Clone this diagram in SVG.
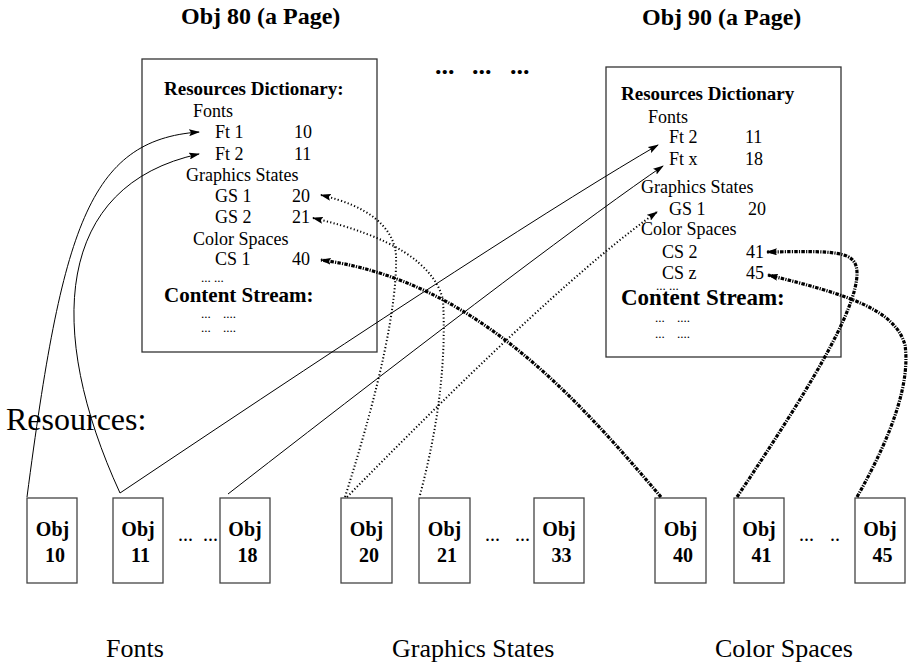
<svg xmlns="http://www.w3.org/2000/svg" width="914" height="663" viewBox="0 0 914 663">
<style>
text{font-family:"Liberation Serif","Times New Roman",serif;fill:#000}
.t{font-size:18px}
.d{font-size:13px}
.b{font-weight:bold}
.title{font-size:24px;font-weight:bold}
.hd{font-size:19px;font-weight:bold}
.obj{font-size:20px;font-weight:bold;text-anchor:middle}
.lbl{font-size:26px}
.page{fill:#fff;stroke:#333;stroke-width:1.3}
.res{fill:#fff;stroke:#444;stroke-width:1.3}
.font{fill:none;stroke:#000;stroke-width:1}
.gs{fill:none;stroke:#000;stroke-width:2;stroke-dasharray:1.2 2.3}
.cs{fill:none;stroke:#000;stroke-width:3.2;stroke-dasharray:3.5 1.2 1.2 1.2}
</style>
<defs>
<marker id="ah" markerUnits="userSpaceOnUse" markerWidth="11" markerHeight="7" refX="10" refY="3.5" orient="auto">
<path d="M0,0 L11,3.5 L0,7 L2,3.5 z" fill="#000"/>
</marker>
</defs>
<rect width="914" height="663" fill="#fff"/>
<text class="title" x="181" y="24">Obj 80 (a Page)</text>
<text class="title" x="642" y="25">Obj 90 (a Page)</text>
<text class="title" y="74" style="font-size:26px"><tspan x="435">...</tspan><tspan x="472">...</tspan><tspan x="510">...</tspan></text>
<g id="page80">
<rect class="page" x="142" y="59" width="235" height="293"/>
<text class="hd" x="164" y="95">Resources Dictionary:</text>
<text class="t" x="193" y="117">Fonts</text>
<text class="t" x="215" y="138">Ft 1</text><text class="t" x="294" y="138">10</text>
<text class="t" x="215" y="160">Ft 2</text><text class="t" x="294" y="160">11</text>
<text class="t" x="186" y="181">Graphics States</text>
<text class="t" x="215" y="202">GS 1</text><text class="t" x="292" y="202">20</text>
<text class="t" x="215" y="223">GS 2</text><text class="t" x="292" y="223">21</text>
<text class="t" x="193" y="245">Color Spaces</text>
<text class="t" x="215" y="265">CS 1</text><text class="t" x="292" y="265">40</text>
<text class="d" x="201" y="282">... ...</text>
<text class="b" x="164" y="302" style="font-size:21px">Content Stream:</text>
<text class="d" y="318"><tspan x="201">...</tspan><tspan x="223">....</tspan></text>
<text class="d" y="332"><tspan x="201">...</tspan><tspan x="223">....</tspan></text>
</g>
<g id="page90">
<rect class="page" x="606" y="67" width="235" height="290"/>
<text class="hd" x="621" y="100">Resources Dictionary</text>
<text class="t" x="648" y="123">Fonts</text>
<text class="t" x="669" y="143">Ft 2</text><text class="t" x="745" y="143">11</text>
<text class="t" x="669" y="165">Ft x</text><text class="t" x="745" y="165">18</text>
<text class="t" x="641" y="193">Graphics States</text>
<text class="t" x="669" y="215">GS 1</text><text class="t" x="748" y="215">20</text>
<text class="t" x="641" y="235">Color Spaces</text>
<text class="t" x="662" y="258">CS 2</text><text class="t" x="746" y="258">41</text>
<text class="t" x="662" y="279">CS z</text><text class="t" x="746" y="279">45</text>
<text class="d" x="656" y="290">... ...</text>
<text class="b" x="621" y="305" style="font-size:23px">Content Stream:</text>
<text class="d" y="322"><tspan x="655">...</tspan><tspan x="677">....</tspan></text>
<text class="d" y="338"><tspan x="655">...</tspan><tspan x="677">....</tspan></text>
</g>
<text x="6" y="430" style="font-size:32px">Resources:</text>
<g id="obj10"><rect class="res" x="27" y="498" width="50" height="85"/><text class="obj" x="52.5" y="536">Obj</text><text class="obj" x="55" y="562">10</text></g>
<g id="obj11"><rect class="res" x="113" y="498" width="50" height="85"/><text class="obj" x="138" y="536">Obj</text><text class="obj" x="140.5" y="562">11</text></g>
<text class="t" y="541" style="font-size:20px"><tspan x="178">...</tspan><tspan x="203">...</tspan></text>
<g id="obj18"><rect class="res" x="220" y="498" width="50" height="85"/><text class="obj" x="245" y="536">Obj</text><text class="obj" x="247.5" y="562">18</text></g>
<g id="obj20"><rect class="res" x="341" y="498" width="51" height="85"/><text class="obj" x="366.5" y="536">Obj</text><text class="obj" x="369" y="562">20</text></g>
<g id="obj21"><rect class="res" x="419" y="498" width="51" height="85"/><text class="obj" x="444.5" y="536">Obj</text><text class="obj" x="447" y="562">21</text></g>
<text class="t" y="541" style="font-size:20px"><tspan x="485">...</tspan><tspan x="515">...</tspan></text>
<g id="obj33"><rect class="res" x="534" y="498" width="50" height="85"/><text class="obj" x="559" y="536">Obj</text><text class="obj" x="561.5" y="562">33</text></g>
<g id="obj40"><rect class="res" x="655" y="498" width="51" height="85"/><text class="obj" x="680.5" y="536">Obj</text><text class="obj" x="683" y="562">40</text></g>
<g id="obj41"><rect class="res" x="734" y="498" width="50" height="85"/><text class="obj" x="759" y="536">Obj</text><text class="obj" x="761.5" y="562">41</text></g>
<text class="t" y="541" style="font-size:20px"><tspan x="799">...</tspan><tspan x="830">..</tspan></text>
<g id="obj45"><rect class="res" x="855" y="498" width="50" height="85"/><text class="obj" x="880" y="536">Obj</text><text class="obj" x="882.5" y="562">45</text></g>
<text class="lbl" x="106" y="657">Fonts</text>
<text class="lbl" x="392" y="657">Graphics States</text>
<text class="lbl" x="715" y="657">Color Spaces</text>
<g id="connectors">
<path class="font" d="M27,497 C62,230 88,140 199,132" marker-end="url(#ah)"/>
<path class="font" d="M120,493 C45,330 55,185 199,154" marker-end="url(#ah)"/>
<path class="font" d="M120,493 Q520,225 658,145" marker-end="url(#ah)"/>
<path class="font" d="M228,494 Q560,236 663,166" marker-end="url(#ah)"/>
<path class="gs" d="M345,497 Q398,330 396,255 Q392,212 321,195" marker-end="url(#ah)"/>
<path class="gs" d="M420,495 Q448,390 443,300 Q430,245 313,218" marker-end="url(#ah)"/>
<path class="gs" d="M347,497 Q560,280 657,212" marker-end="url(#ah)"/>
<path class="cs" d="M661,497 C570,390 470,280 321,260" marker-end="url(#ah)"/>
<path class="cs" d="M737,497 C805,395 858,310 857,272 C856,250 835,251 767,252" marker-end="url(#ah)"/>
<path class="cs" d="M857,497 C895,430 910,380 905,345 C895,310 850,295 768,275" marker-end="url(#ah)"/>
</g>
</svg>
